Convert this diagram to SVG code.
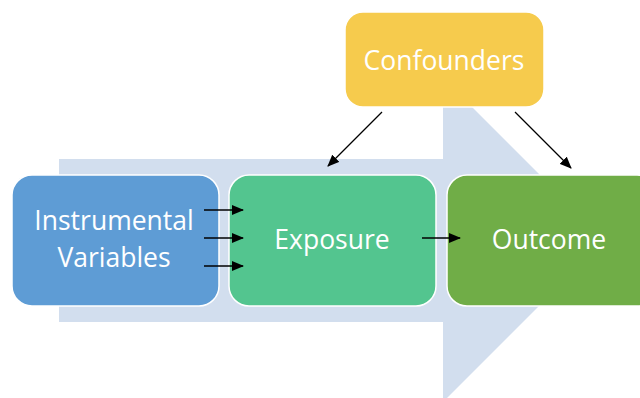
<svg xmlns="http://www.w3.org/2000/svg" width="640" height="398" viewBox="0 0 640 398">
  <style>
    .box { stroke: #ffffff; stroke-width: 1.5; }
    .lbl { font-family: "Open Sans", "Liberation Sans", sans-serif; font-size: 26.5px; fill: #ffffff; text-anchor: middle; }
    .edge { stroke: #000000; stroke-width: 1.3; fill: none; marker-end: url(#head); }
  </style>
  <defs>
    <marker id="head" markerWidth="12" markerHeight="10" refX="11" refY="5" orient="auto" markerUnits="userSpaceOnUse">
      <path d="M0,0 L12,5 L0,10 Z" fill="#000000"/>
    </marker>
  </defs>
  <rect width="640" height="398" fill="#ffffff"/>

  <!-- background process arrow -->
  <path id="flow" d="M59,159 H443 V78 L605,240 L443,402 V322 H59 Z" fill="#d2deee"/>

  <g id="instruments">
    <rect class="box" x="12" y="175" width="207" height="131" rx="20" fill="#5e9cd5"/>
    <text class="lbl" x="114" y="230">Instrumental</text>
    <text class="lbl" x="114" y="267">Variables</text>
  </g>
  <g id="exposure">
    <rect class="box" x="229" y="175" width="207" height="131" rx="20" fill="#53c58f"/>
    <text class="lbl" x="332" y="249">Exposure</text>
  </g>
  <g id="outcome">
    <rect class="box" x="447" y="175" width="210" height="131" rx="20" fill="#70ad47"/>
    <text class="lbl" x="549" y="249">Outcome</text>
  </g>
  <g id="confounders">
    <rect class="box" x="345" y="12" width="199" height="95" rx="18" fill="#f6cb4d"/>
    <text class="lbl" x="444" y="70">Confounders</text>
  </g>

  <g id="connectors">
    <line class="edge" x1="204" y1="210" x2="243" y2="210"/>
    <line class="edge" x1="204" y1="238" x2="243" y2="238"/>
    <line class="edge" x1="204" y1="266" x2="243" y2="266"/>
    <line class="edge" x1="422" y1="238" x2="460" y2="238"/>
    <line class="edge" x1="382" y1="112" x2="328" y2="166"/>
    <line class="edge" x1="515" y1="112" x2="571" y2="168"/>
  </g>
</svg>
